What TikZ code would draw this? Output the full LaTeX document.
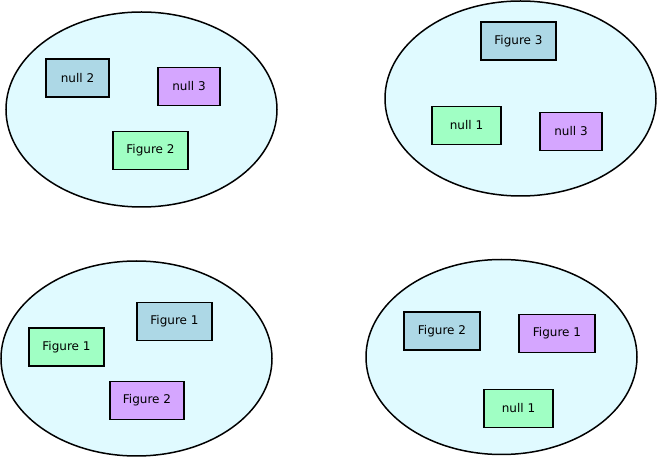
\documentclass[tikz,border=0pt]{standalone}
\usepackage{fontspec}
\setmainfont{DejaVu Sans}
\usepackage{xcolor}
\usetikzlibrary{shapes.geometric}
\definecolor{groupcyan}{RGB}{224, 250, 255}
\definecolor{boxblue}{RGB}{173, 216, 230}
\definecolor{boxpurple}{RGB}{213, 166, 255}
\definecolor{boxgreen}{RGB}{160, 255, 196}

\begin{document}
\begin{tikzpicture}[x=1pt, y=-1pt,
  group/.style={draw, ellipse, fill=groupcyan, line width=1.5pt, minimum width=271pt, minimum height=195pt, inner sep=0pt},
  item/.style={draw, rectangle, line width=1.8pt, minimum width=75pt, minimum height=38pt, inner sep=0pt, font=\fontsize{12}{14}\selectfont},
  blueitem/.style={item, fill=boxblue},
  purpleitem/.style={item, fill=boxpurple},
  greenitem/.style={item, fill=boxgreen}]
\useasboundingbox (0,0) rectangle (657,457);
% Groups
\node[group] (groupA) at (141.5,109.5) {};
\node[group] (groupB) at (520.5,98.5) {};
\node[group] (groupC) at (136.5,358.5) {};
\node[group] (groupD) at (501.5,357) {};

% Top left group
\node[blueitem, minimum width=63pt] (nullTwoA) at (77.5,78) {null 2};
\node[purpleitem, minimum width=62pt] (nullThreeA) at (189,86.5) {null 3};
\node[greenitem] (figTwoA) at (150.5,150.5) {Figure 2};

% Top right group
\node[blueitem] (figThreeB) at (518.5,41) {Figure 3};
\node[greenitem, minimum width=69pt] (nullOneB) at (466.5,125.5) {null 1};
\node[purpleitem, minimum width=62pt] (nullThreeB) at (571,131.5) {null 3};

% Bottom left group
\node[greenitem] (figOneC) at (66.5,347) {Figure 1};
\node[blueitem] (figOneCC) at (174.5,321.5) {Figure 1};
\node[purpleitem, minimum width=74pt] (figTwoC) at (147,400.5) {Figure 2};

% Bottom right group
\node[blueitem, minimum width=76pt] (figTwoD) at (442,331) {Figure 2};
\node[purpleitem, minimum width=76pt] (figOneD) at (557,333.5) {Figure 1};
\node[greenitem, minimum width=69pt] (nullOneD) at (518.5,408.5) {null 1};
\end{tikzpicture}
\end{document}
